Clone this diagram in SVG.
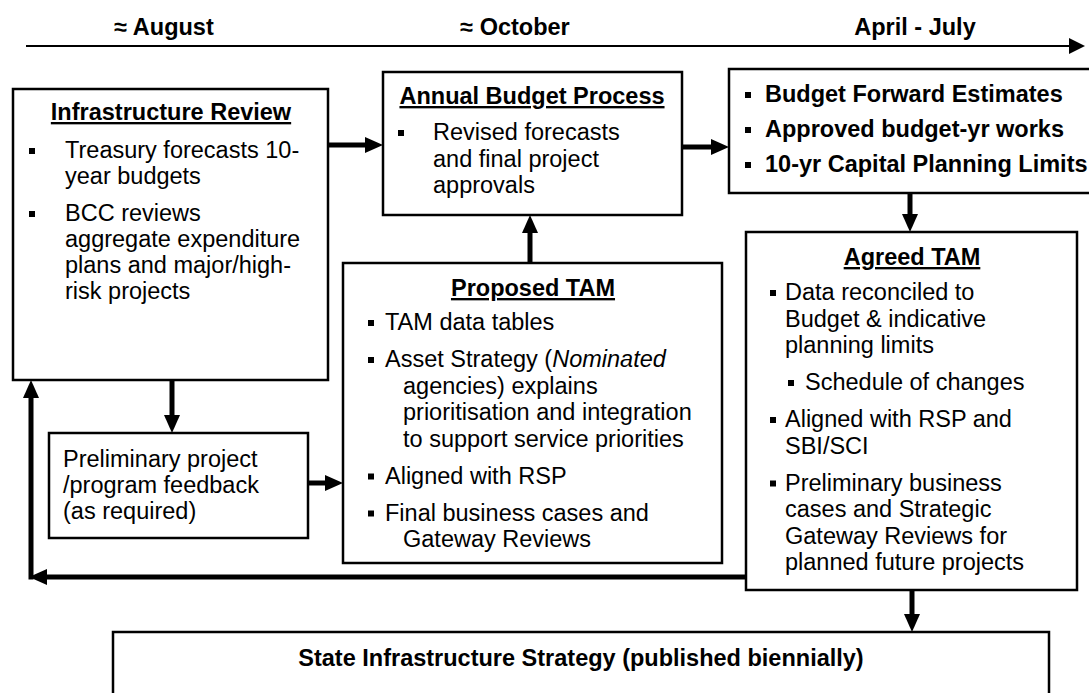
<svg xmlns="http://www.w3.org/2000/svg" width="1089" height="693" viewBox="0 0 1089 693">
  <defs>
    <style>
      .box { fill: #fff; stroke: #000; stroke-width: 2.5; }
      .t { font-family: "Liberation Sans", Arial, Helvetica, sans-serif; font-size: 23.5px; fill: #000; }
      .b { font-weight: bold; }
      .h { font-weight: bold; text-anchor: middle; text-decoration: underline; }
      .m { text-anchor: middle; }
      .c { fill: none; stroke: #000; stroke-width: 5; }
      .bul { fill: #000; }
    </style>
    <marker id="ah" markerUnits="userSpaceOnUse" viewBox="0 0 18 16" markerWidth="18" markerHeight="16" refX="8" refY="8" orient="auto">
      <path d="M0,0 L18,8 L0,16 z" fill="#000"/>
    </marker>
  </defs>
  <rect width="1089" height="693" fill="#fff"/>

  <!-- timeline -->
  <g id="timeline">
    <line x1="26" y1="46" x2="1072" y2="46" stroke="#000" stroke-width="2"/>
    <polygon points="1069,38 1085,46 1069,54" fill="#000"/>
    <text class="t b m" x="164" y="35">≈ August</text>
    <text class="t b m" x="515" y="35">≈ October</text>
    <text class="t b m" x="915" y="35">April - July</text>
  </g>

  <!-- connectors -->
  <g id="connectors" class="c" marker-end="url(#ah)">
    <path d="M328,145 H373"/>
    <path d="M682,147 H719"/>
    <path d="M530,263 V225"/>
    <path d="M910,193 V222"/>
    <path d="M172,380 V423"/>
    <path d="M308,483 H333"/>
    <path d="M746,577 H39"/>
    <path d="M31,579.5 V390"/>
    <path d="M912,590 V622"/>
  </g>

  <g id="infrastructure-review">
    <rect class="box" x="13" y="89" width="315" height="291"/>
    <text class="t h" x="171" y="120">Infrastructure Review</text>
    <rect class="bul" x="29" y="148" width="6" height="6"/>
    <text class="t" x="65" y="158">Treasury forecasts 10-</text>
    <text class="t" x="65" y="184">year budgets</text>
    <rect class="bul" x="29" y="211" width="6" height="6"/>
    <text class="t" x="65" y="221">BCC reviews</text>
    <text class="t" x="65" y="247">aggregate expenditure</text>
    <text class="t" x="65" y="273">plans and major/high-</text>
    <text class="t" x="65" y="299">risk projects</text>
  </g>

  <g id="annual-budget-process">
    <rect class="box" x="383" y="72" width="299" height="143"/>
    <text class="t h" x="532" y="104">Annual Budget Process</text>
    <rect class="bul" x="398" y="130" width="6" height="6"/>
    <text class="t" x="433" y="140">Revised forecasts</text>
    <text class="t" x="433" y="166.5">and final project</text>
    <text class="t" x="433" y="193">approvals</text>
  </g>

  <g id="budget-outputs">
    <rect class="box" x="729" y="69" width="380" height="124"/>
    <rect class="bul" x="745" y="92" width="6" height="6"/>
    <text class="t b" x="765" y="102">Budget Forward Estimates</text>
    <rect class="bul" x="745" y="127" width="6" height="6"/>
    <text class="t b" x="765" y="137">Approved budget-yr works</text>
    <rect class="bul" x="745" y="162" width="6" height="6"/>
    <text class="t b" x="765" y="172">10-yr Capital Planning Limits</text>
  </g>

  <g id="proposed-tam">
    <rect class="box" x="343" y="263" width="379" height="300"/>
    <text class="t h" x="533" y="296">Proposed TAM</text>
    <rect class="bul" x="368" y="320" width="6" height="6"/>
    <text class="t" x="385" y="330">TAM data tables</text>
    <rect class="bul" x="368" y="357" width="6" height="6"/>
    <text class="t" x="385" y="367">Asset Strategy (<tspan font-style="italic">Nominated</tspan></text>
    <text class="t" x="403" y="393.5">agencies) explains</text>
    <text class="t" x="403" y="420">prioritisation and integration</text>
    <text class="t" x="403" y="446.5">to support service priorities</text>
    <rect class="bul" x="368" y="473.5" width="6" height="6"/>
    <text class="t" x="385" y="483.5">Aligned with RSP</text>
    <rect class="bul" x="368" y="510.5" width="6" height="6"/>
    <text class="t" x="385" y="520.5">Final business cases and</text>
    <text class="t" x="403" y="547">Gateway Reviews</text>
  </g>

  <g id="preliminary-feedback">
    <rect class="box" x="49" y="433" width="259" height="105"/>
    <text class="t" x="63" y="467">Preliminary project</text>
    <text class="t" x="63" y="493">/program feedback</text>
    <text class="t" x="63" y="519">(as required)</text>
  </g>

  <g id="agreed-tam">
    <rect class="box" x="746" y="232" width="331" height="358"/>
    <text class="t h" x="912" y="265">Agreed TAM</text>
    <rect class="bul" x="770" y="290" width="6" height="6"/>
    <text class="t" x="785" y="300">Data reconciled to</text>
    <text class="t" x="785" y="326.5">Budget &amp; indicative</text>
    <text class="t" x="785" y="353">planning limits</text>
    <rect class="bul" x="788" y="380" width="6" height="6"/>
    <text class="t" x="805" y="390">Schedule of changes</text>
    <rect class="bul" x="770" y="417" width="6" height="6"/>
    <text class="t" x="785" y="427">Aligned with RSP and</text>
    <text class="t" x="785" y="453.5">SBI/SCI</text>
    <rect class="bul" x="770" y="480.5" width="6" height="6"/>
    <text class="t" x="785" y="490.5">Preliminary business</text>
    <text class="t" x="785" y="517">cases and Strategic</text>
    <text class="t" x="785" y="543.5">Gateway Reviews for</text>
    <text class="t" x="785" y="570">planned future projects</text>
  </g>

  <g id="state-infrastructure-strategy">
    <rect class="box" x="113" y="632" width="936" height="90"/>
    <text class="t b m" x="581" y="666">State Infrastructure Strategy (published biennially)</text>
  </g>
</svg>
